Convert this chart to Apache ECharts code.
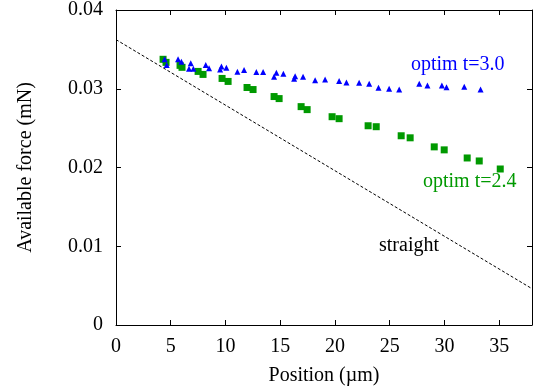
<!DOCTYPE html>
<html><head><meta charset="utf-8">
<script src="https://cdn.jsdelivr.net/npm/echarts@6/dist/echarts.min.js"></script>
<style>html,body{margin:0;padding:0;background:#fff}#c{width:535px;height:392px}</style>
</head><body><div id="c"></div>
<script>
const xTicks = [0,5,10,15,20,25,30,35];
const yTicks = [0,0.01,0.02,0.03,0.04];

const blueX = [4.45,4.63,5.67,5.97,6.67,6.83,7.07,8.20,8.50,9.51,9.63,10.08,11.09,11.70,12.82,13.44,14.44,14.65,15.29,16.27,16.36,17.09,18.19,19.10,20.38,21.05,22.21,23.13,23.98,24.95,25.87,27.70,28.45,29.77,30.19,31.81,33.30];
const blueY = [0.03374,0.03301,0.03374,0.03344,0.03255,0.03323,0.03255,0.03301,0.03259,0.03246,0.03281,0.03268,0.03217,0.03237,0.03212,0.03212,0.03153,0.03204,0.03191,0.03127,0.03160,0.03153,0.03109,0.03118,0.03097,0.03080,0.03076,0.03063,0.03012,0.03000,0.02990,0.03063,0.03042,0.03042,0.03020,0.03025,0.02990];

const greenX = [4.30,4.57,5.85,6.03,7.50,7.95,9.69,10.24,11.97,12.52,14.44,14.90,16.91,17.46,19.74,20.38,23.03,23.77,26.05,26.87,29.07,29.98,32.08,33.18,35.10];
const greenY = [0.03374,0.03335,0.03297,0.03272,0.03220,0.03182,0.03131,0.03093,0.03016,0.02990,0.02901,0.02875,0.02773,0.02735,0.02645,0.02620,0.02530,0.02518,0.02403,0.02377,0.02262,0.02224,0.02121,0.02083,0.01981];

const straightX = [0, 38];
const straightY = [0.03624, 0.00461];

const zip = (a,b) => a.map((v,i)=>[v,b[i]]);
const F = 'Liberation Serif, Times New Roman, serif';

const chart = echarts.init(document.getElementById('c'), null, {renderer:'canvas'});
const axisBase = {
  axisLine:{show:true, onZero:false, lineStyle:{color:'#000', width:1}},
  axisTick:{show:true, inside:true, length:5, lineStyle:{color:'#000'}},
  splitLine:{show:false}
};
chart.setOption({
  animation:false,
  grid:{left:116, right:3, top:10, bottom:67, containLabel:false},
  xAxis:[
    Object.assign({}, axisBase, {type:'value', min:0, max:38, interval:5, position:'bottom',
      name:'Position (µm)', nameLocation:'middle', nameGap:41,
      nameTextStyle:{fontFamily:F, fontSize:20, color:'#000'},
      axisLabel:{fontFamily:F, fontSize:20, color:'#000', margin:12, showMaxLabel:false,
        formatter:v=> xTicks.indexOf(v)>=0 ? String(v) : ''}}),
    Object.assign({}, axisBase, {type:'value', min:0, max:38, interval:5, position:'top',
      axisLabel:{show:false}})
  ],
  yAxis:[
    Object.assign({}, axisBase, {type:'value', min:0, max:0.04, interval:0.01, position:'left',
      name:'Available force (mN)', nameLocation:'middle', nameGap:80,
      nameTextStyle:{fontFamily:F, fontSize:20, color:'#000'},
      axisLabel:{fontFamily:F, fontSize:20, color:'#000', margin:13,
        formatter:v=>{ const t = yTicks.find(k=>Math.abs(k-v)<1e-9); return t===0 ? '0' : (t!==undefined ? t.toFixed(2) : ''); }}}),
    Object.assign({}, axisBase, {type:'value', min:0, max:0.04, interval:0.01, position:'right',
      axisLabel:{show:false}})
  ],
  series:[
    {type:'line', data:zip(straightX, straightY), symbol:'none', silent:true,
      lineStyle:{color:'#000', width:1, type:[3,2]}},
    {type:'scatter', data:zip(greenX, greenY), symbol:'rect', symbolSize:7,
      itemStyle:{color:'#009900', opacity:1}},
    {type:'scatter', data:zip(blueX, blueY), symbol:'triangle', symbolSize:6,
      itemStyle:{color:'#0000ff', opacity:1}}
  ],
  graphic:[
    {type:'text', left:411, top:55, style:{text:'optim t=3.0', font:'20px '+F, fill:'#0000ff'}},
    {type:'text', left:423, top:172, style:{text:'optim t=2.4', font:'20px '+F, fill:'#009900'}},
    {type:'text', left:379, top:236, style:{text:'straight', font:'20px '+F, fill:'#000'}}
  ]
});
</script></body></html>
